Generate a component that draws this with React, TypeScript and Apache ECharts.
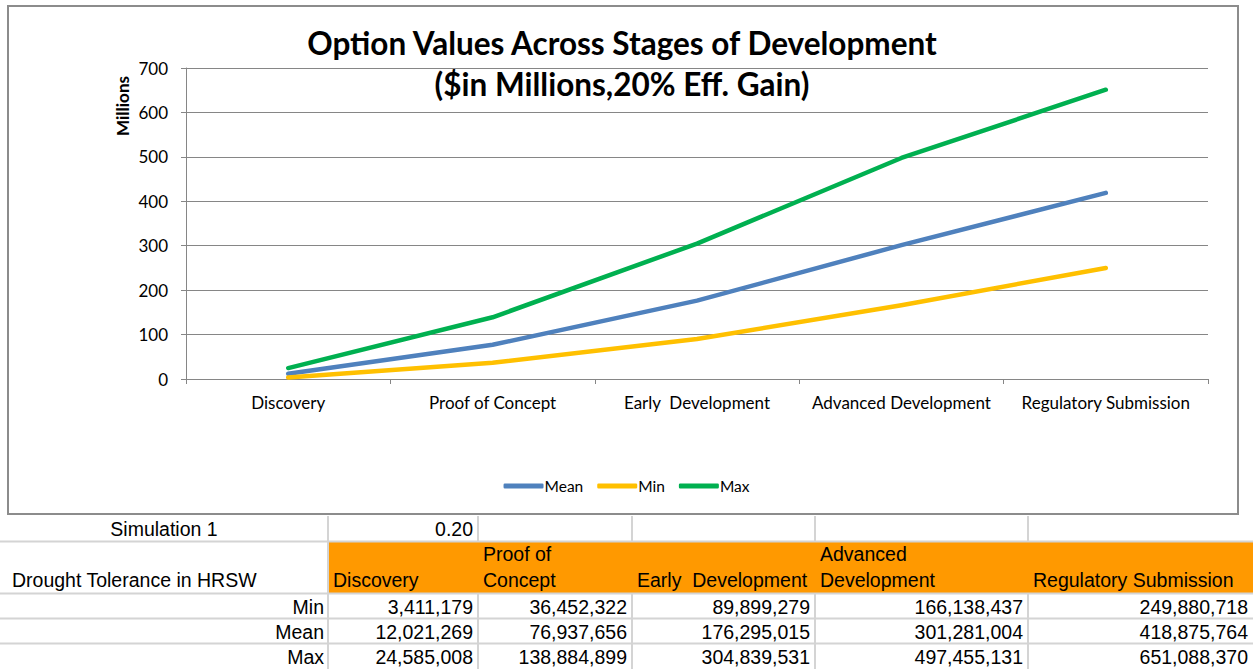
import React, { useEffect, useRef } from "react";
import * as echarts from "echarts";

const categories = ["Discovery", "Proof of Concept", "Early  Development", "Advanced Development", "Regulatory Submission"];
const meanValues = [12.021269, 76.937656, 176.295015, 301.281004, 418.875764];
const minValues = [3.411179, 36.452322, 89.899279, 166.138437, 249.880718];
const maxValues = [24.585008, 138.884899, 304.839531, 497.455131, 651.088370];
const yTicks = [0, 100, 200, 300, 400, 500, 600, 700];

const titleLine1 = "Option Values Across Stages of Development";
const titleLine2 = "($in Millions,20% Eff. Gain)";

const tableTopLabel = "Simulation 1";
const tableTopValue = "0.20";
const tableRowHeader = "Drought Tolerance in HRSW";
const tableHeaders = [["", "Discovery"], ["Proof of", "Concept"], ["", "Early  Development"], ["Advanced", "Development"], ["", "Regulatory Submission"]];
const tableRowNames = ["Min", "Mean", "Max"];
const tableMin = ["3,411,179", "36,452,322", "89,899,279", "166,138,437", "249,880,718"];
const tableMean = ["12,021,269", "76,937,656", "176,295,015", "301,281,004", "418,875,764"];
const tableMax = ["24,585,008", "138,884,899", "304,839,531", "497,455,131", "651,088,370"];

const COLORS = { mean: "#4F81BD", min: "#FFC000", max: "#00B050" };
const FONT = "Lato, 'Open Sans', sans-serif";
const TFONT = "'Liberation Sans', Arial, sans-serif";

export default function App() {
  const ref = useRef<HTMLDivElement>(null);
  useEffect(() => {
    if (!ref.current) return;
    const chart = echarts.init(ref.current, undefined, { renderer: "svg" });

    const colX = [0, 328, 478, 632, 815, 1028, 1253];
    const rowY = [516, 541, 593, 618, 643, 669];
    const gridColor = "#D4D4D4";
    const tfs = 19.5;
    const g: any[] = [];

    // chart border
    g.push({ type: "rect", shape: { x: 8, y: 6, width: 1230, height: 508 }, style: { fill: "none", stroke: "#8C8C8C", lineWidth: 2 }, z: 0 });

    // orange header
    g.push({ type: "rect", shape: { x: colX[1], y: rowY[1], width: 1253 - colX[1], height: rowY[2] - rowY[1] }, style: { fill: "#FF9900" } });
    [rowY[1], rowY[2], rowY[3], rowY[4]].forEach((y) => {
      g.push({ type: "line", shape: { x1: 0, y1: y + 0.5, x2: 1253, y2: y + 0.5 }, style: { stroke: gridColor, lineWidth: 2 } });
    });
    colX.slice(1, 6).forEach((x) => {
      g.push({ type: "line", shape: { x1: x, y1: rowY[0], x2: x, y2: rowY[1] }, style: { stroke: gridColor, lineWidth: 2 } });
      g.push({ type: "line", shape: { x1: x, y1: rowY[2], x2: x, y2: rowY[5] }, style: { stroke: gridColor, lineWidth: 2 } });
    });
    g.push({ type: "line", shape: { x1: colX[1], y1: rowY[1], x2: colX[1], y2: rowY[2] }, style: { stroke: gridColor, lineWidth: 2 } });

    const txt = (text: string, x: number, y: number, align: string) => ({
      type: "text",
      x, y,
      style: { text, fill: "#000", font: `${tfs}px ${TFONT}`, textAlign: align, textVerticalAlign: "middle" },
    });
    g.push(txt(tableTopLabel, (colX[0] + colX[1]) / 2, 529, "center"));
    g.push(txt(tableTopValue, colX[2] - 5, 529, "right"));
    g.push(txt(tableRowHeader, 12, 580, "left"));
    tableHeaders.forEach((h, i) => {
      if (h[0]) g.push(txt(h[0], colX[i + 1] + 5, 554, "left"));
      g.push(txt(h[1], colX[i + 1] + 5, 580, "left"));
    });
    [tableMin, tableMean, tableMax].forEach((row, r) => {
      const cy = (rowY[r + 2] + rowY[r + 3]) / 2 + 1;
      g.push(txt(tableRowNames[r], colX[1] - 4, cy, "right"));
      row.forEach((v, i) => g.push(txt(v, colX[i + 2] - 5, cy, "right")));
    });

    // y-axis name
    g.push({
      type: "text", x: 122, y: 106, rotation: Math.PI / 2,
      style: { text: "Millions", font: `bold 17px ${FONT}`, fill: "#000", textAlign: "center", textVerticalAlign: "middle" },
    });

    chart.setOption({
      animation: false,
      title: {
        text: titleLine1 + "\n" + titleLine2,
        left: 622, top: 22, textAlign: "center", padding: 0,
        textStyle: { fontFamily: FONT, fontWeight: "bold", fontSize: 31.5, color: "#000", lineHeight: 41 },
      },
      legend: {
        bottom: 669 - 499, left: "center",
        itemWidth: 40, itemHeight: 5, itemGap: 14,
        icon: "roundRect",
        textStyle: { fontFamily: FONT, fontSize: 15.5, color: "#000", padding: [0, 0, 0, -4] },
        data: ["Mean", "Min", "Max"],
      },
      grid: { left: 186, right: 1253 - 1208, top: 68, bottom: 669 - 379, containLabel: false },
      xAxis: {
        type: "category", data: categories, boundaryGap: true,
        axisLine: { lineStyle: { color: "#868686", width: 1 } },
        axisTick: { show: true, length: 5, lineStyle: { color: "#868686" } },
        axisLabel: { color: "#000", fontFamily: FONT, fontSize: 17, margin: 15, interval: 0 },
      },
      yAxis: {
        type: "value", min: yTicks[0], max: yTicks[yTicks.length - 1], interval: 100,
        axisLine: { show: true, lineStyle: { color: "#868686", width: 1 } },
        axisTick: { show: true, length: 5, lineStyle: { color: "#868686" } },
        splitLine: { lineStyle: { color: "#868686", width: 1 } },
        axisLabel: { color: "#000", fontFamily: FONT, fontSize: 17, margin: 18 },
      },
      series: [
        { name: "Mean", type: "line", data: meanValues, symbol: "none", color: COLORS.mean, lineStyle: { width: 4.5, cap: "round", join: "round" } },
        { name: "Min", type: "line", data: minValues, symbol: "none", color: COLORS.min, lineStyle: { width: 4.5, cap: "round", join: "round" } },
        { name: "Max", type: "line", data: maxValues, symbol: "none", color: COLORS.max, lineStyle: { width: 4.5, cap: "round", join: "round" } },
      ],
      graphic: g,
    });
    return () => chart.dispose();
  }, []);

  return (
    <div
      ref={ref}
      style={{ position: "fixed", left: 0, top: 0, width: 1253, height: 669, background: "#fff" }}
    />
  );
}
